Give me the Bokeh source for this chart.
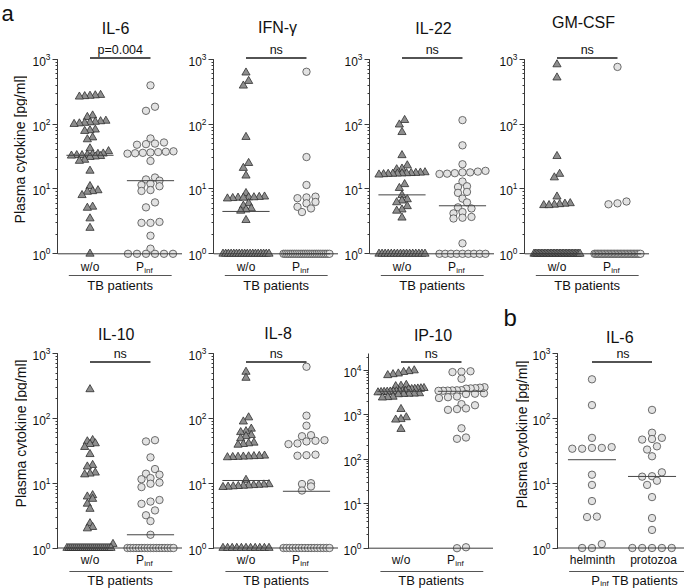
import numpy as np
from bokeh.plotting import figure
from bokeh.models import Range1d, Span, Label, LogTicker
from bokeh.layouts import row, column
from bokeh.embed import file_html
from bokeh.resources import INLINE

# ---------------- data ----------------
titles_row1 = ["IL-6", "IFN-γ", "IL-22", "GM-CSF"]
titles_row2 = ["IL-10", "IL-8", "IP-10", "IL-6"]
stats_row1 = ["p=0.004", "ns", "ns", "ns"]
stats_row2 = ["ns", "ns", "ns", "ns"]
cats_b = ["helminth", "protozoa"]

il6_wo = [280, 276, 272, 268, 264, 135, 128, 112, 110, 108, 106, 104, 102, 100, 82, 80, 78, 62, 58,
          42, 38, 35, 34.5, 34, 33.5, 33, 33, 32.5, 32, 31.5, 31, 28, 27, 19, 11, 9.5, 9.2, 9.0, 8.0,
          5.3, 5.1, 3.5, 2.5, 1.0]
il6_pinf = [395, 185, 160, 60, 52, 50, 49, 48, 38, 37.5, 37, 36.5, 36, 35.5, 35, 27, 15, 14, 13.4,
            12, 11.5, 11, 9.6, 9.3, 6.2, 5.2, 3.1, 3.0, 3.0, 1.9, 1.2, 1, 1, 1, 1, 1, 1]
il6_med = [33, 13.4]

ifng_wo = [620, 460, 390, 63, 25, 21, 16, 8.6, 7.6, 7.5, 7.4, 7.4, 7.3, 7.3, 7.2, 7.1, 6.0, 5.5, 5.0,
           4.8, 4.6, 3.3, 1, 1, 1, 1, 1, 1, 1, 1, 1, 1, 1, 1, 1, 1, 1, 1, 1, 1]
ifng_pinf = [640, 31, 11.5, 7.6, 7.4, 7.2, 6.3, 6.0, 5.3, 5.0, 4.4, 1, 1, 1, 1, 1, 1, 1, 1, 1, 1, 1,
             1, 1, 1, 1, 1, 1, 1, 1, 1, 1, 1, 1, 1, 1, 1]
ifng_med = [4.5, 1.0]

il22_wo = [115, 98, 75, 33, 23, 20.5, 20, 18, 17.8, 17.6, 17.5, 17.4, 17.3, 17.2, 17.1, 17.0, 16.8,
           16.6, 11.8, 10.3, 8.0, 6.9, 6.6, 6.2, 5.4, 4.8, 4.6, 3.6, 1, 1, 1, 1, 1, 1, 1, 1, 1, 1, 1,
           1, 1, 1, 1, 1]
il22_pinf = [115, 47, 24, 19, 18.5, 18, 18, 17.5, 17.2, 17, 13, 11, 10.7, 9.0, 8.7, 7.1, 6.2, 5.2,
             5.0, 4.4, 4.2, 3.7, 3.6, 3.5, 1.45, 1, 1, 1, 1, 1, 1, 1, 1, 1]
il22_med = [8.1, 5.5]

gmcsf_wo = [830, 520, 32, 17, 15, 7.6, 6.0, 5.9, 5.8, 5.7, 5.6, 5.6, 1, 1, 1, 1, 1, 1, 1, 1, 1, 1,
            1, 1, 1, 1, 1, 1, 1, 1, 1, 1, 1, 1, 1, 1, 1, 1, 1, 1, 1, 1, 1, 1]
gmcsf_pinf = [760, 6.4, 6.0, 5.8, 1, 1, 1, 1, 1, 1, 1, 1, 1, 1, 1, 1, 1, 1, 1, 1, 1, 1, 1, 1, 1, 1,
              1, 1, 1, 1, 1, 1, 1, 1, 1, 1, 1]
gmcsf_med = [1.0, 1.0]

il10_wo = [280, 46, 44, 41, 40, 36, 28, 19, 18, 14.5, 14, 13.6, 6.5, 6.2, 5.7, 4.8, 4.0, 2.4, 2.1,
           2.0, 1.15, 1, 1, 1, 1, 1, 1, 1, 1, 1, 1, 1, 1, 1, 1, 1, 1, 1, 1, 1, 1, 1, 1, 1]
il10_pinf = [46, 44, 25, 16.5, 14, 13.5, 12, 11.5, 10.2, 9.8, 8.7, 5.5, 5.2, 4.8, 3.8, 3.2, 2.6,
             1.6, 1, 1, 1, 1, 1, 1, 1, 1, 1, 1, 1, 1, 1, 1, 1, 1, 1]
il10_med = [1.0, 1.6]

il8_wo = [520, 420, 103, 89, 69, 63, 61, 55, 53, 49, 42, 41, 40, 39, 26.5, 26.2, 26, 25.8, 25.6,
          25.4, 25.2, 25, 11.2, 9.6, 9.5, 9.4, 9.3, 9.2, 9.1, 9.0, 8.9, 8.8, 8.7, 1, 1, 1, 1, 1, 1,
          1, 1, 1, 1, 1]
il8_pinf = [625, 110, 77, 55, 53, 46, 45, 44, 41, 40, 27.5, 27, 26.5, 10, 9.7, 8.9, 7.7, 1, 1, 1,
            1, 1, 1, 1, 1, 1, 1, 1, 1, 1, 1, 1, 1]
il8_med = [11, 7.5]

ip10_wo = [10000, 9600, 9200, 8500, 8200, 7800, 4700, 4500, 4400, 4000, 3950, 3900, 3850, 3800,
           3750, 3450, 3420, 3400, 3380, 3350, 3330, 3300, 3280, 3250, 3200, 3050, 3000, 2980,
           2950, 2900, 2550, 2500, 2450, 1350, 880, 800, 780, 480]
ip10_pinf = [9600, 9400, 9200, 6500, 4200, 4100, 4000, 3950, 3900, 3600, 3580, 3550, 3520, 3500,
             3480, 3050, 3000, 2950, 2600, 2500, 2400, 1750, 1650, 1400, 1350, 1300, 500, 310,
             290, 1.05, 1.0]
ip10_med = [3400, 3400]

helminth = [400, 160, 50, 36, 35, 35, 34, 34, 13.5, 9.4, 5.3, 3.05, 3.0, 1.15, 1, 1]
protozoa = [135, 60, 50, 48, 47, 37, 33, 26, 14.7, 12.8, 12.6, 10.9, 9.4, 6.1, 2.9, 1.9, 1, 1, 1,
            1, 1]
b_med = [23, 12.7]

# ---------------- styling ----------------
FONT = "Liberation Sans"
TXT = "#111111"
AX = "#3a3a3a"
TRI_FILL, TRI_LINE = "#8e8e8e", "#2e2e2e"
CIR_FILL, CIR_LINE = "#e2e2e2", "#4a4a4a"


def swarm_offsets(vals, ppd, dx, maxw, rowh=5.0):
    vals = np.asarray(vals, float)
    y = np.log10(vals) * ppd
    order = np.argsort(y, kind="stable")
    off = np.zeros(len(vals))
    rows, cur = [], []
    for i in order:
        if cur and y[i] - y[cur[0]] > rowh:
            rows.append(cur)
            cur = []
        cur.append(i)
    if cur:
        rows.append(cur)
    for r in rows:
        n = len(r)
        sp = dx if n < 2 or (n - 1) * dx <= maxw else maxw / (n - 1)
        for k, i in enumerate(r):
            off[i] = (k - (n - 1) / 2) * sp
    return off


def page_x(g, xd):
    return g["left"] + g["bl"] + (xd - g["xs"]) * g["ppu"]


def ydata(g, py):
    return 10 ** ((g["y0"] - py) / g["ppd"])


def label(p, g, px, py, s, size, align="center", angle=0.0):
    p.add_layout(Label(x=px - (g["left"] + g["bl"]), y=(g["top"] + g["h"]) - py,
                       x_units="screen", y_units="screen", text=s, text_font=FONT,
                       text_font_size=f"{size}px", text_align=align, text_baseline="middle",
                       angle=angle, text_color=TXT))


def strip(left, top, w, h):
    p = figure(width=w, height=h, x_range=Range1d(0, 1), y_range=Range1d(0, 1), x_axis_type=None,
               y_axis_type=None, toolbar_location=None, output_backend="svg", min_border=0,
               title=None)
    p.outline_line_color = None
    g = dict(left=left, bl=0, top=top, h=h)
    return p, g


def make_fig(g):
    fw = g["w"] - g["bl"]
    bottom = g["top"] + g["h"]
    xs = g["xs"]
    xe = xs + fw / g["ppu"]
    ylo = 10 ** (-(bottom - g["y0"]) / g["ppd"])
    yhi = 10 ** ((g["y0"] - g["top"]) / g["ppd"])
    p = figure(width=g["w"], height=g["h"], x_range=Range1d(xs, xe), y_range=Range1d(ylo, yhi),
               y_axis_type="log", x_axis_type=None, toolbar_location=None, output_backend="svg",
               min_border_left=g["bl"], min_border_right=0, min_border_top=0, min_border_bottom=0,
               title=None)
    p.outline_line_color = None
    p.ygrid.visible = False
    ax = p.yaxis[0]
    ax.bounds = (1, 10 ** g["ytop"])
    ax.ticker = LogTicker(num_minor_ticks=10)
    ax.axis_line_color = AX
    ax.major_tick_line_color = AX
    ax.minor_tick_line_color = AX
    ax.major_tick_in = 0
    ax.major_tick_out = 5
    ax.minor_tick_in = 0
    ax.minor_tick_out = 2
    ax.major_label_standoff = 2
    ax.major_label_text_font = FONT
    ax.major_label_text_font_size = "12px"
    ax.major_label_text_color = TXT
    p.add_layout(Span(location=1, dimension="width", line_color=AX, line_width=1))
    return p


def build(g, title, title_x, title_y, data, meds, stat, t, shapes, cat_names, tb_prefix=False):
    p = make_fig(g)
    hw = g["mhw"]
    for k, (vals, shape) in enumerate(zip(data, shapes)):
        c = k + 1
        if shape == "triangle":
            off = swarm_offsets(vals, g["ppd"], 5.3, 46)
            p.scatter(c + off / g["ppu"], vals, marker="triangle", size=8.2, fill_color=TRI_FILL,
                      line_color=TRI_LINE, line_width=0.8)
        else:
            off = swarm_offsets(vals, g["ppd"], g["cdx"], 46)
            p.scatter(c + off / g["ppu"], vals, marker="circle", size=7.4, fill_color=CIR_FILL,
                      line_color=CIR_LINE, line_width=0.8)
    p.segment(x0=[1 - hw, 2 - hw], x1=[1 + hw, 2 + hw], y0=meds, y1=meds, line_color="#444444",
              line_width=1)
    # significance bracket
    yb = ydata(g, t["stat_line"])
    p.segment(x0=[1], x1=[2], y0=[yb], y1=[yb], line_color="#1a1a1a", line_width=1.3)
    label(p, g, page_x(g, 1.5), t["stat_line"] - 8.5, stat, 12.5)
    # title
    label(p, g, title_x, title_y, title, 16)
    # category labels
    if cat_names is None:
        label(p, g, page_x(g, 1), t["cat"], "w/o", 12)
        label(p, g, page_x(g, 2) - 6.5, t["cat"], "P", 12, align="right")
        label(p, g, page_x(g, 2) - 6.3, t["cat"] + 3.2, "inf", 8, align="left")
    else:
        label(p, g, page_x(g, 1), t["cat"], cat_names[0], 12)
        label(p, g, page_x(g, 2), t["cat"], cat_names[1], 12)
    # group underline and text
    yu = ydata(g, t["ul"])
    p.segment(x0=[g["ul0"]], x1=[g["ul1"]], y0=[yu], y1=[yu], line_color="#555555", line_width=1)
    if tb_prefix:
        label(p, g, 597.5, t["tb"], "P", 13, align="right")
        label(p, g, 597.8, t["tb"] + 2.8, "inf", 8, align="left")
        label(p, g, 609.5, t["tb"], "TB patients", 13, align="left")
    else:
        label(p, g, page_x(g, 1.5), t["tb"], "TB patients", 13)
    return p


A = dict(ppu=60.5, xs=0.463, mhw=0.39, cdx=9.0)
row1_geo = dict(h=298, top=0, y0=253.3, ppd=64.87, ytop=3)
row2_geo = dict(h=290, top=298, y0=547.5, ppd=64.83, ytop=3)
t1 = dict(stat_line=57.5, cat=266.4, ul=275, tb=285.3)
t2 = dict(stat_line=361.5, cat=559.9, ul=571, tb=580.2)

# ---- row 1 ----
s1, gs1 = strip(0, 0, 27, 298)
label(s1, gs1, 19, 149, "Plasma cytokine [pg/ml]", 14, angle=np.pi / 2)
label(s1, gs1, 1, 12.7, "a", 22, align="left")

lefts1, widths1, bls1 = [27, 182, 338, 494], [155, 156, 156, 155], [30, 31, 31, 30]
tx1 = [115, 277, 433, 583]
ty1 = [28, 27, 28, 21.5]
data1 = [(il6_wo, il6_pinf), (ifng_wo, ifng_pinf), (il22_wo, il22_pinf), (gmcsf_wo, gmcsf_pinf)]
meds1 = [il6_med, ifng_med, il22_med, gmcsf_med]

figs1 = [s1]
for i in range(4):
    g = dict(row1_geo, **A, left=lefts1[i], w=widths1[i], bl=bls1[i], ul0=0.65, ul1=2.35)
    figs1.append(build(g, titles_row1[i], tx1[i], ty1[i], data1[i], meds1[i], stats_row1[i], t1,
                       ["triangle", "circle"], None))

# ---- row 2 ----
s5, gs5 = strip(0, 298, 27, 290)
label(s5, gs5, 20, 433, "Plasma cytokine [pg/ml]", 14, angle=np.pi / 2)

s8, gs8 = strip(493, 298, 36, 290)
label(s8, gs8, 521.7, 434, "Plasma cytokine [pg/ml]", 14, angle=np.pi / 2)
label(s8, gs8, 503, 316.5, "b", 24, align="left")

tx2 = [115.7, 277.5, 432.5, 617.3]
ty2 = [334.2, 333, 335.3, 337.2]
figs2 = [s5]
g = dict(row2_geo, **A, left=27, w=155, bl=30, ul0=0.66, ul1=2.36)
figs2.append(build(g, titles_row2[0], tx2[0], ty2[0], (il10_wo, il10_pinf), il10_med, stats_row2[0],
                   t2, ["triangle", "circle"], None))
g = dict(row2_geo, **A, left=182, w=156, bl=31, ul0=0.66, ul1=2.36)
figs2.append(build(g, titles_row2[1], tx2[1], ty2[1], (il8_wo, il8_pinf), il8_med, stats_row2[1],
                   t2, ["triangle", "circle"], None))
g = dict(row2_geo, **A, left=338, w=155, bl=30, ul0=0.66, ul1=2.36)
g.update(y0=547.7, ppd=44.43, ytop=4.38)
figs2.append(build(g, titles_row2[2], tx2[2], ty2[2], (ip10_wo, ip10_pinf), ip10_med, stats_row2[2],
                   t2, ["triangle", "circle"], None))
figs2.append(s8)
g = dict(row2_geo, ppu=61, xs=0.426, mhw=0.40, cdx=10.0, left=529, w=155, bl=26, ul0=0.62, ul1=2.54)
figs2.append(build(g, titles_row2[3], tx2[3], ty2[3], (helminth, protozoa), b_med, stats_row2[3],
                   t2, ["circle", "circle"], cats_b, tb_prefix=True))

layout = column(row(*figs1, spacing=0), row(*figs2, spacing=0), spacing=0)
open("out.html", "w").write(file_html(layout, INLINE))
